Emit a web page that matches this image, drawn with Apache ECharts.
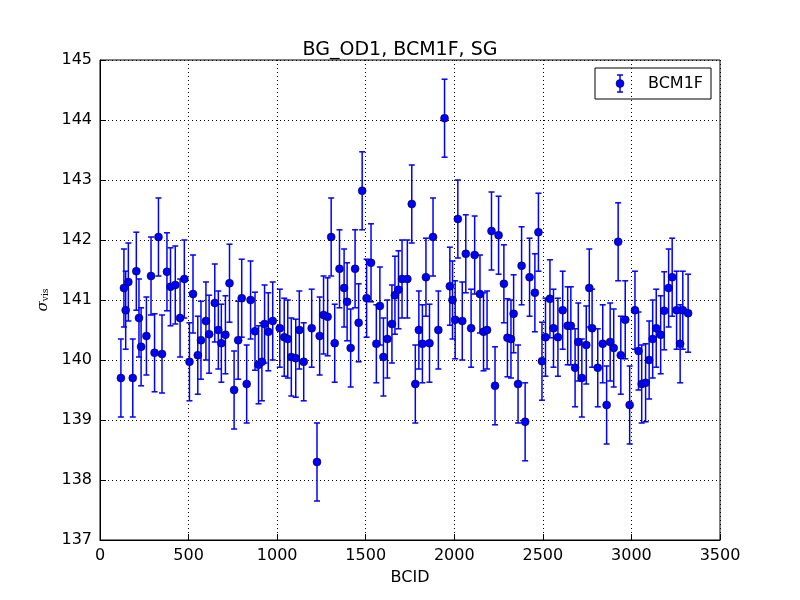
<!DOCTYPE html>
<html><head><meta charset="utf-8">
<script src="https://cdn.jsdelivr.net/npm/echarts@6/dist/echarts.min.js"></script>
<style>html,body{margin:0;background:#fff}#c{width:800px;height:600px}</style>
</head><body><div id="c"></div>
<script>
const bcid = [118,135,145,160,185,205,220,232,262,288,308,330,350,378,398,425,452,476,505,525,552,570,598,616,648,668,685,708,731,757,780,800,828,850,875,895,914,929,950,975,1015,1040,1060,1080,1105,1125,1150,1195,1225,1240,1262,1285,1305,1325,1352,1378,1395,1415,1440,1460,1480,1505,1530,1560,1580,1600,1622,1648,1665,1685,1705,1735,1760,1780,1800,1820,1840,1860,1880,1910,1945,1975,1990,2005,2020,2045,2065,2095,2115,2145,2165,2185,2210,2230,2250,2280,2300,2320,2335,2360,2380,2400,2425,2455,2475,2495,2515,2540,2560,2585,2612,2640,2658,2682,2700,2720,2745,2762,2778,2810,2838,2860,2880,2900,2925,2940,2965,2990,3020,3040,3058,3080,3100,3120,3140,3165,3185,3210,3230,3255,3275,3290,3320];
const sigma = [139.7,141.2,140.83,141.3,139.7,141.48,140.7,140.22,140.4,141.4,140.12,142.05,140.1,141.47,141.22,141.25,140.7,141.35,139.97,141.1,140.08,140.33,140.65,140.43,140.95,140.5,140.28,140.42,141.28,139.5,140.33,141.03,139.6,141.0,140.48,139.92,139.97,140.6,140.47,140.65,140.53,140.38,140.35,140.05,140.03,140.5,139.97,140.53,138.3,140.4,140.75,140.72,142.05,140.28,141.52,141.2,140.97,140.2,141.52,140.62,142.82,141.03,141.62,140.27,140.9,140.05,140.35,140.6,141.08,141.17,141.35,141.35,142.6,139.6,140.5,140.27,141.38,140.28,142.05,140.5,144.03,141.23,141.0,140.67,142.35,140.65,141.77,140.53,141.75,141.1,140.47,140.5,142.15,139.57,142.08,141.27,140.37,140.35,140.77,139.6,141.57,138.97,141.38,141.12,142.13,139.98,140.38,141.02,140.53,140.38,140.83,140.57,140.57,139.87,140.3,139.7,140.25,141.2,140.53,139.87,140.27,139.25,140.3,140.2,141.97,140.08,140.67,139.25,140.83,140.15,139.6,139.62,140.0,140.35,140.53,140.42,140.82,141.2,141.38,140.83,140.27,140.83,140.78];
const ERR = 0.65;
const xTicks = [0,500,1000,1500,2000,2500,3000,3500];
const yTicks = [137,138,139,140,141,142,143,144,145];

const pts = bcid.map((x,i)=>[x,sigma[i]]);
const errData = bcid.map((x,i)=>[x,sigma[i]-ERR,sigma[i]+ERR]);
const axisCommon = {axisLine:{show:true,onZero:false,lineStyle:{color:'#000'}},
  axisTick:{inside:true,length:6,lineStyle:{color:'#000'}},
  axisLabel:{color:'#000',fontSize:16,fontFamily:'DejaVu Sans',margin:8,formatter:v=>String(v)},
  splitLine:{show:true,lineStyle:{color:'#000',type:[1,3],width:1}}};
const chart = echarts.init(document.getElementById('c'));
chart.setOption({
  animation:false,
  title:{text:'BG_OD1, BCM1F, SG',left:'center',top:36,textStyle:{fontSize:19,fontWeight:'normal',fontFamily:'DejaVu Sans',color:'#000'}},
  grid:{left:100,right:80,top:60,bottom:60,show:true,borderColor:'#000',borderWidth:1},
  xAxis:Object.assign({type:'value',min:0,max:3500,interval:500,name:'BCID',nameLocation:'middle',nameGap:30,nameTextStyle:{fontSize:16,color:'#000',fontFamily:'DejaVu Sans'}},axisCommon),
  yAxis:Object.assign({type:'value',min:137,max:145,interval:1,name:'{s|σ}{sub|vis}',nameLocation:'middle',nameGap:48,
    nameTextStyle:{rich:{s:{fontSize:15,color:'#000',fontFamily:'DejaVu Serif',fontStyle:'italic'},sub:{fontSize:9,color:'#000',fontFamily:'DejaVu Serif',verticalAlign:'bottom',padding:[6,0,0,0]}}}},axisCommon),
  legend:{show:false},
  graphic:[
    {type:'rect',shape:{x:595,y:68,width:116,height:31},style:{fill:'#fff',stroke:'#000',lineWidth:1}},
    {type:'line',shape:{x1:620,y1:75,x2:620,y2:92},style:{stroke:'#0000ff',lineWidth:1.5}},
    {type:'line',shape:{x1:617,y1:75,x2:623,y2:75},style:{stroke:'#0000ff',lineWidth:1.5}},
    {type:'line',shape:{x1:617,y1:92,x2:623,y2:92},style:{stroke:'#0000ff',lineWidth:1.5}},
    {type:'circle',shape:{cx:620,cy:83.5,r:4},style:{fill:'#0000ff',stroke:'#000',lineWidth:0.5}},
    {type:'text',style:{x:648,y:83.5,text:'BCM1F',fill:'#000',font:'16px DejaVu Sans',textVerticalAlign:'middle'}}
  ],
  series:[
    {type:'custom',data:errData,z:2,
     renderItem:(p,api)=>{
       const x=api.value(0);
       const lo=api.coord([x,api.value(1)]), hi=api.coord([x,api.value(2)]);
       const s={stroke:'#0000ff',lineWidth:1.5};
       return {type:'group',children:[
         {type:'line',shape:{x1:lo[0],y1:lo[1],x2:hi[0],y2:hi[1]},style:s},
         {type:'line',shape:{x1:lo[0]-3,y1:lo[1],x2:lo[0]+3,y2:lo[1]},style:s},
         {type:'line',shape:{x1:hi[0]-3,y1:hi[1],x2:hi[0]+3,y2:hi[1]},style:s}]};
     }},
    {type:'scatter',data:pts,symbolSize:8,z:3,itemStyle:{color:'#0000ff',borderColor:'#000',borderWidth:0.5,opacity:1}}
  ]
});
</script></body></html>
